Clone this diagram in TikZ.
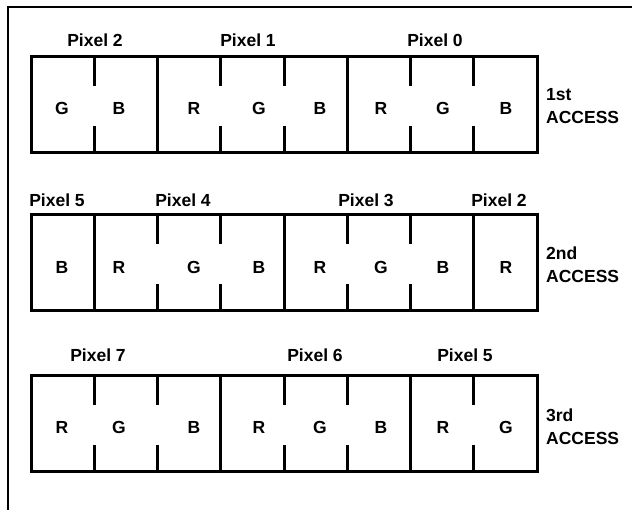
\documentclass[tikz,border=0pt]{standalone}
\usepackage{fontspec}
\setmainfont{Liberation Sans}
\usetikzlibrary{positioning,calc}
\tikzset{
    % outline of one access word
    wordbox/.style={
           rectangle,
           draw=black, line width=3pt,
           minimum width=506pt,
           minimum height=96pt,
           inner sep=0pt, outer sep=0pt},
    % letters and labels
    lbl/.style={font=\fontsize{17.5}{23}\selectfont\bfseries, inner sep=0pt},
    acclbl/.style={lbl, align=left, anchor=west},
    % dividers between the bytes
    fullline/.style={line width=3pt},
    partline/.style={line width=3pt}
}
\begin{document}
\begin{tikzpicture}[x=1pt,y=-1pt]
\useasboundingbox (0,0) rectangle (632,510);
% frame
\draw[line width=2pt] (8,510) -- (8,7) -- (632,7);
 %words
\node[wordbox] (w1) at (284,104.5) {};
\node[wordbox] (w2) at (284,262.5) {};
\node[wordbox] (w3) at (284,423.5) {};
% 1st access
\foreach \i in {2,5}
  \draw[fullline] ($(w1.north west)+(\i*63.25,0)$) -- ($(w1.south west)+(\i*63.25,0)$);
\foreach \i in {1,3,4,6,7} {
  \draw[partline] ($(w1.north west)+(\i*63.25,0)$) -- +(0,30);
  \draw[partline] ($(w1.south west)+(\i*63.25,0)$) -- +(0,-26);
}
\foreach \c/\x [count=\k] in {G/62,B/119,R/194,G/259,B/320,R/381,G/443,B/506}
  \node[lbl] (a\k) at (\x,108) {\c};
\node[lbl] (pa2) at (95,40) {Pixel 2};
\node[lbl] (pa1) at (248,40) {Pixel 1};
\node[lbl] (pa0) at (435,40) {Pixel 0};
\node[acclbl] (acc1) at (546,106.5) {1st\\ACCESS};
% 2nd access
\foreach \i in {1,4,7}
  \draw[fullline] ($(w2.north west)+(\i*63.25,0)$) -- ($(w2.south west)+(\i*63.25,0)$);
\foreach \i in {2,3,5,6} {
  \draw[partline] ($(w2.north west)+(\i*63.25,0)$) -- +(0,30);
  \draw[partline] ($(w2.south west)+(\i*63.25,0)$) -- +(0,-26);
}
\foreach \c/\x [count=\k] in {B/62,R/119,G/194,B/259,R/320,G/381,B/443,R/506}
  \node[lbl] (b\k) at (\x,267) {\c};
\node[lbl] (pb5) at (57,200) {Pixel 5};
\node[lbl] (pb4) at (183,200) {Pixel 4};
\node[lbl] (pb3) at (366,200) {Pixel 3};
\node[lbl] (pb2) at (499,200) {Pixel 2};
\node[acclbl] (acc2) at (546,265) {2nd\\ACCESS};
% 3rd access
\foreach \i in {3,6}
  \draw[fullline] ($(w3.north west)+(\i*63.25,0)$) -- ($(w3.south west)+(\i*63.25,0)$);
\foreach \i in {1,2,4,5,7} {
  \draw[partline] ($(w3.north west)+(\i*63.25,0)$) -- +(0,30);
  \draw[partline] ($(w3.south west)+(\i*63.25,0)$) -- +(0,-26);
}
\foreach \c/\x [count=\k] in {R/62,G/119,B/194,R/259,G/320,B/381,R/443,G/506}
  \node[lbl] (c\k) at (\x,427) {\c};
\node[lbl] (pc7) at (98,355) {Pixel 7};
\node[lbl] (pc6) at (315,355) {Pixel 6};
\node[lbl] (pc5) at (465,355) {Pixel 5};
\node[acclbl] (acc3) at (546,426.5) {3rd\\ACCESS};
\end{tikzpicture}
\end{document}
